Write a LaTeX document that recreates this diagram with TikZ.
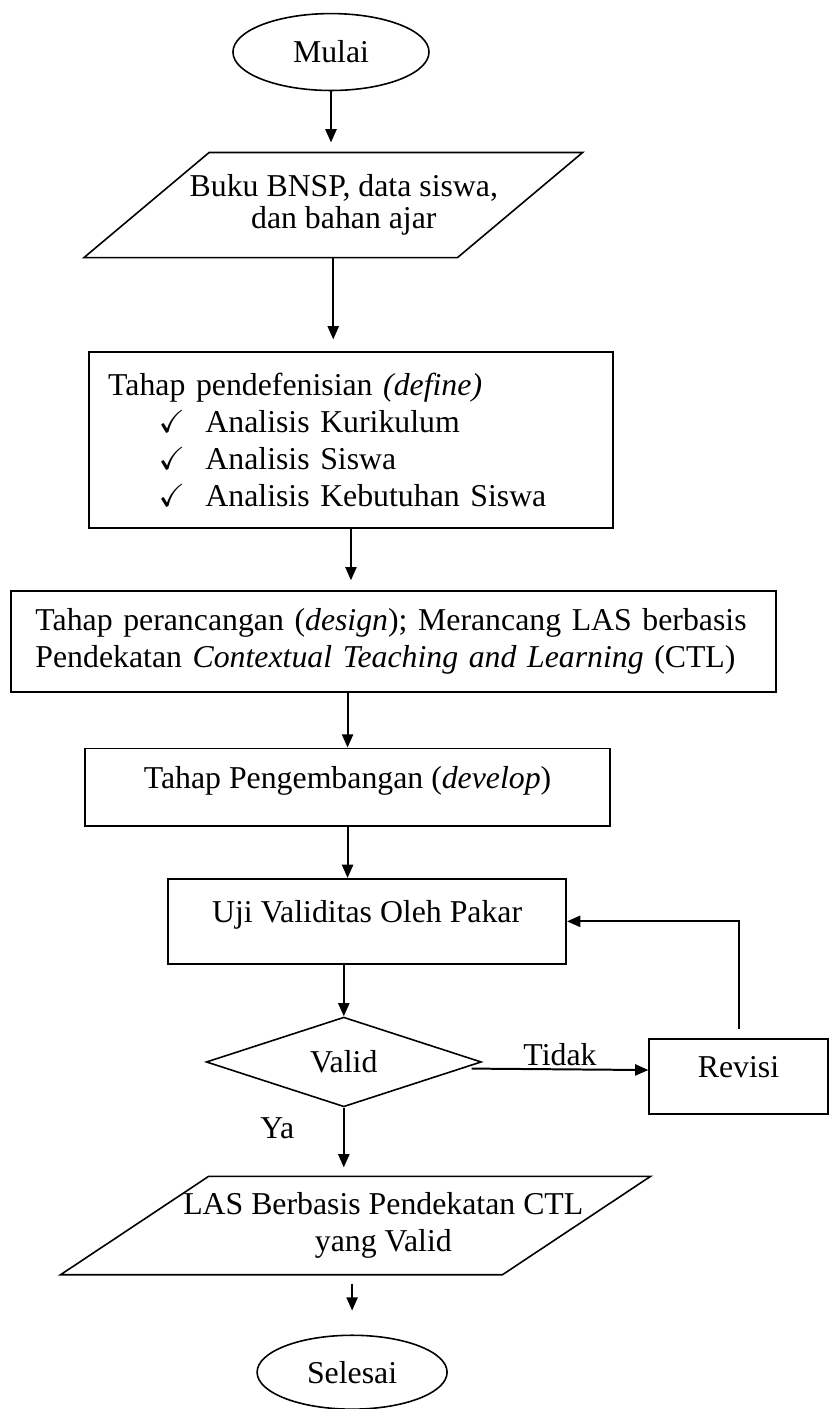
\documentclass[tikz,border=0pt]{standalone}
\usepackage{amssymb}
\usepackage{fontspec}
\setmainfont{Liberation Serif}
\usepackage{tikz}
\usetikzlibrary{arrows.meta, shapes.geometric, calc}
\tikzset{
  every node/.style={font=\fontsize{12}{14}\selectfont},
  pbox/.style={draw, line width=0.6pt, inner sep=0pt},
  onel/.style={pbox, text height=9pt, text depth=8pt},
  term/.style={draw, ellipse, line width=0.6pt, inner sep=0pt},
  dec/.style={draw, diamond, line width=0.6pt, inner sep=0pt, aspect=3.07},
  io/.style={inner sep=0pt},
  flow/.style={line width=0.75pt, -{Triangle[length=5pt, width=4.2pt]}},
  gapped/.style={shorten >=3.8pt}
}

\begin{document}
\begin{tikzpicture}
\useasboundingbox (0,0) rectangle (10.995,-18.688);
% start
\node[term, minimum width=2.60cm, minimum height=1.02cm] (mulai) at (4.39,-0.69) {Mulai};
% input: a parallelogram round the text
\node[io, minimum width=6.60cm, minimum height=1.38cm, align=center] (buku) at (4.42,-2.72) {\hspace*{8pt}Buku BNSP, data siswa,\\[-2pt]\hspace*{8pt}dan bahan ajar};
\draw[line width=0.6pt] ([xshift=1.66cm]buku.north west) -- (buku.north east) -- ([xshift=-1.66cm]buku.south east) -- (buku.south west) -- cycle;
% define stage
\node[pbox, minimum width=6.95cm, minimum height=2.33cm, text width=6.44cm, align=left] (define) at (4.655,-5.835) {Tahap pendefenisian \textit{(define)}\\
  \hspace*{19pt}\makebox[17.7pt][l]{$\checkmark$}Analisis Kurikulum\\
  \hspace*{19pt}\makebox[17.7pt][l]{$\checkmark$}Analisis Siswa\\
  \hspace*{19pt}\makebox[17.7pt][l]{$\checkmark$}Analisis Kebutuhan Siswa};
% design stage
\node[pbox, minimum width=10.15cm, minimum height=1.34cm, text width=9.5cm, align=left] (design) at (5.22,-8.51) {Tahap perancangan (\textit{design}); Merancang LAS berbasis\\
  Pendekatan \textit{Contextual Teaching and Learning} (CTL)};
% develop stage
\node[onel, minimum width=6.96cm, minimum height=1.03cm] (develop) at (4.61,-10.44) {Tahap Pengembangan (\textit{develop})};
\node[onel, minimum width=5.28cm, minimum height=1.13cm] (uji) at (4.87,-12.22) {Uji Validitas Oleh Pakar};
% decision and revision
\node[dec, minimum width=3.65cm, minimum height=1.19cm] (valid) at (4.56,-14.085) {Valid};
\node[onel, minimum width=2.37cm, minimum height=0.995cm] (revisi) at (9.795,-14.28) {Revisi};
% output: a parallelogram round the text
\node[io, minimum width=7.81cm, minimum height=1.29cm, align=center] (las) at (4.715,-16.255) {\hspace*{21pt}LAS Berbasis Pendekatan CTL\\\hspace*{21pt}yang Valid};
\draw[line width=0.6pt] ([xshift=1.963cm]las.north west) -- (las.north east) -- ([xshift=-1.963cm]las.south east) -- (las.south west) -- cycle;
% end
\node[term, minimum width=2.52cm, minimum height=0.98cm] (selesai) at (4.67,-18.20) {Selesai};
% arrows
\draw[flow, gapped] (mulai.south) -- (mulai.south |- buku.north);
\draw[flow, shorten >=4.5pt] (buku.south) -- (buku.south |- define.north);
\draw[flow, gapped] (define.south) -- (define.south |- design.north);
\draw[flow] (develop.north |- design.south) -- (develop.north);
\draw[flow] (develop.south) -- (develop.south |- uji.north);
\draw[flow] (valid.north |- uji.south) -- (valid.north);
\draw[flow] ([xshift=-4pt, yshift=-2.5pt]valid.east) -- node[above, inner sep=1pt] {Tidak} ([yshift=2.5pt]revisi.west);
\draw[flow, shorten <=3.4pt] (revisi.north) |- (uji.east);
\draw[flow, shorten >=3.4pt] (valid.south) -- node[pos=0.3, left=15pt] {Ya} (valid.south |- las.north);
\draw[flow, shorten <=3.4pt, shorten >=9pt] (selesai.north |- las.south) -- (selesai.north);
\end{tikzpicture}
\end{document}
